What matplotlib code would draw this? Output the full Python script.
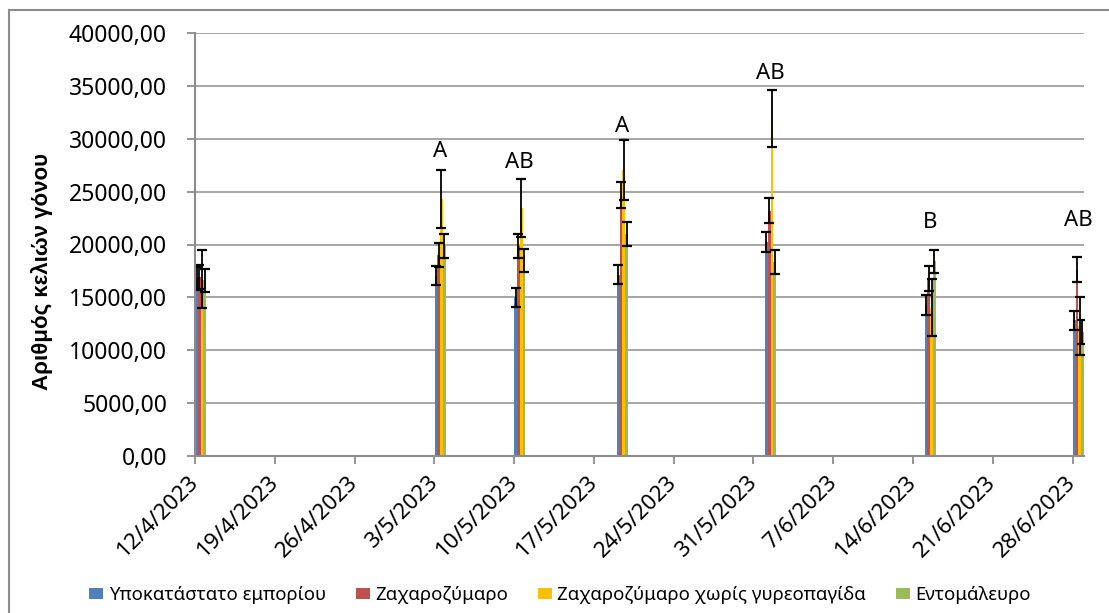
"""Brood cell counts per sampling date, Excel-style date-axis bar chart."""

import matplotlib
matplotlib.use("Agg")
import matplotlib.dates as mdates
import matplotlib.pyplot as plt
import matplotlib.transforms as mtransforms
from matplotlib.lines import Line2D
import numpy as np
import pandas as pd

plt.rcParams["font.family"] = ["Noto Sans", "DejaVu Sans"]

# sampling dates
dates = ["2023-04-12", "2023-05-03", "2023-05-10", "2023-05-19",
         "2023-06-01", "2023-06-15", "2023-06-28"]

series_names = [
    "Υποκατάστατο εμπορίου",
    "Ζαχαροζύμαρο",
    "Ζαχαροζύμαρο χωρίς γυρεοπαγίδα",
    "Εντομάλευρο",
]
series_colors = ["#4F81BD", "#C0504D", "#FFC000", "#9BBB59"]

commercial = [16800, 17050, 15000, 17150, 20250, 14250, 12850]
commercial_err = [1100, 900, 900, 900, 950, 950, 900]
sugar_dough = [16900, 19000, 19850, 24700, 23200, 16750, 17600]
sugar_dough_err = [1150, 1150, 1150, 1200, 1200, 1200, 1180]
sugar_dough_no_trap = [16750, 24350, 23500, 27050, 31900, 14000, 12300]
sugar_dough_no_trap_err = [2750, 2750, 2750, 2850, 2700, 2700, 2720]
insect_meal = [16600, 19850, 18500, 21000, 18350, 18400, 11750]
insect_meal_err = [1100, 1100, 1100, 1150, 1100, 1120, 1140]

# significance letters above each date group
letters = ["", "A", "AB", "A", "AB", "B", "AB"]
letter_y = [0, 28800, 27800, 31200, 36200, 22100, 22250]

y_ticks = [0, 5000, 10000, 15000, 20000, 25000, 30000, 35000, 40000]

values = [commercial, sugar_dough, sugar_dough_no_trap, insect_meal]
errors = [commercial_err, sugar_dough_err, sugar_dough_no_trap_err, insect_meal_err]

GRID = "#A6A6A6"
AXIS = "#8C8C8C"

fig = plt.figure(figsize=(11.09, 6.13), dpi=100, facecolor="white")
ax = fig.add_axes([195 / 1109, 1 - 455.7 / 613, 889 / 1109, 422.4 / 613])

x0 = mdates.date2num(pd.to_datetime(dates))
bar_w = 0.24
for i, (vals, errs) in enumerate(zip(values, errors)):
    xs = x0 + 0.02 + i * bar_w
    ax.bar(xs, vals, width=bar_w, align="edge", color=series_colors[i],
           linewidth=0, zorder=2, label=series_names[i])
for i, (vals, errs) in enumerate(zip(values, errors)):
    xs = x0 + 0.02 + i * bar_w + bar_w / 2
    ax.errorbar(xs, vals, yerr=errs, fmt="none", ecolor="black",
                elinewidth=1.3, capsize=3.6, capthick=1.6, zorder=3)

for xd, lab, ly in zip(x0, letters, letter_y):
    if lab:
        ax.text(xd + 0.5, ly, lab, ha="center", va="center", fontsize=16,
                color="black", clip_on=False)

start = pd.Timestamp(dates[0])
end = pd.Timestamp(dates[-1]) + pd.Timedelta(days=1)
ax.set_xlim(mdates.date2num(start), mdates.date2num(end))
ax.set_ylim(0, 40000)

ticks = pd.date_range(dates[0], dates[-1], freq="7D")
ax.set_xticks(mdates.date2num(ticks))
ax.set_xticklabels([f"{d.day}/{d.month}/{d.year}" for d in ticks],
                   rotation=45, ha="right", va="center", rotation_mode="anchor",
                   fontsize=16)
shift = mtransforms.ScaledTranslation(0.05, 0, fig.dpi_scale_trans)
for lab in ax.get_xticklabels():
    lab.set_transform(lab.get_transform() + shift)

ax.set_yticks(y_ticks)
ax.set_yticklabels([f"{v:.2f}".replace(".", ",") for v in y_ticks], fontsize=16.5)

ax.tick_params(axis="x", length=5.8, width=1.3, color=AXIS, pad=11.5)
ax.tick_params(axis="y", length=5.8, width=1.3, color=AXIS, pad=14.4)

ax.grid(axis="y", color=GRID, linewidth=1.4, zorder=0)
ax.set_axisbelow(True)
for side in ("top", "right"):
    ax.spines[side].set_visible(False)
for side in ("left", "bottom"):
    ax.spines[side].set_color(AXIS)
    ax.spines[side].set_linewidth(1.5)
    ax.spines[side].set_zorder(4)

fig.text(42 / 1109, 1 - 272 / 613, "Αριθμός κελιών γόνου", rotation=90,
         ha="center", va="center", fontsize=16, fontweight="bold",
         family=["Liberation Sans", "DejaVu Sans"])

handles, labels = ax.get_legend_handles_labels()
fig.legend(handles[:4], labels[:4], loc="center", bbox_to_anchor=(0.505, 1 - 595 / 613),
           ncol=4, frameon=False, fontsize=13.4, handlelength=0.75, handleheight=0.6,
           handletextpad=0.3, columnspacing=1.6)

# chart border (left and top edges are visible in the original)
fig.add_artist(Line2D([9 / 1109, 9 / 1109], [0, 1 - 10 / 613], transform=fig.transFigure,
                      color="#8C8C8C", linewidth=1.5))
fig.add_artist(Line2D([9 / 1109, 1], [1 - 10 / 613, 1 - 10 / 613], transform=fig.transFigure,
                      color="#8C8C8C", linewidth=1.5))

fig.savefig("out.png", dpi=100, facecolor="white")
